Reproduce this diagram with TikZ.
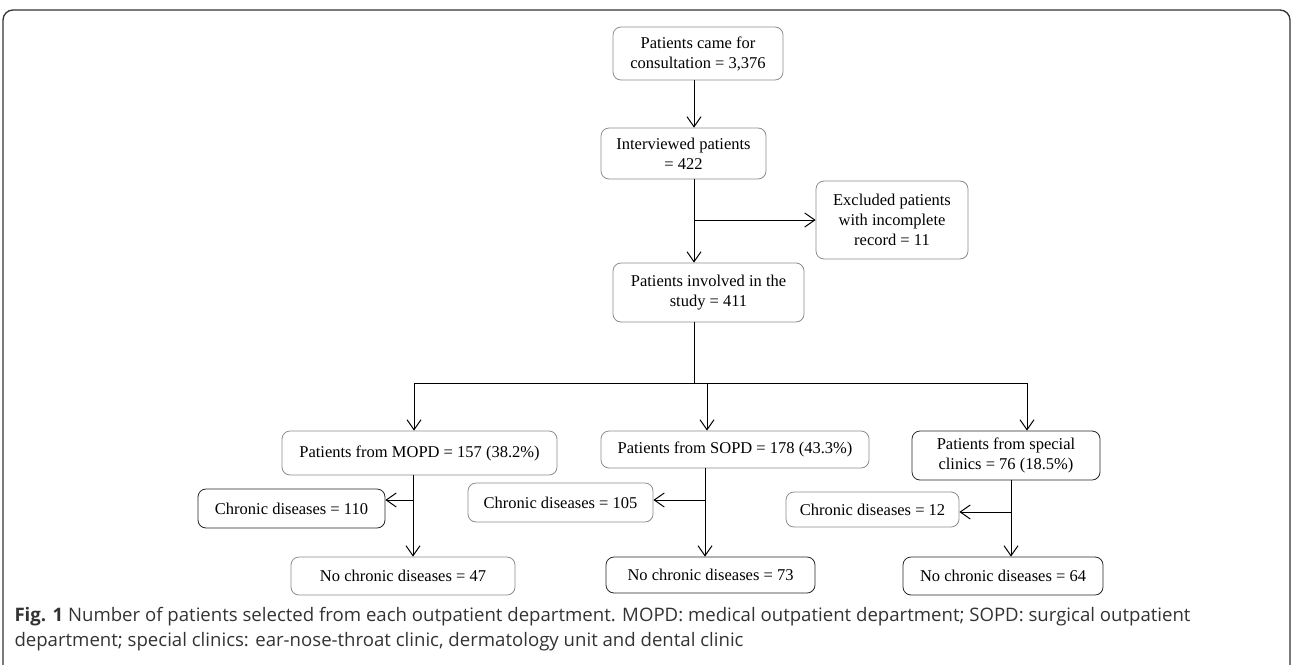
\documentclass[tikz,border=0pt]{standalone}
\usepackage{fontspec}
\setmainfont{Liberation Serif}
\newfontfamily\capfont{Open Sans}
\usetikzlibrary{arrows.meta}
\tikzset{box/.style={draw=black!45, line width=0.8pt, rounded corners=8pt, align=center, inner sep=0pt, font=\fontsize{16.5}{20}\selectfont},
         darkbox/.style={box, draw=black!85},
         arr/.style={-{Straight Barb[length=10pt,width=14pt]}},
         every path/.style={line width=1pt}}

\begin{document}
\begin{tikzpicture}[x=1pt,y=-1pt]
  \useasboundingbox (0,0) rectangle (1292,664);
  \draw[black!80, line width=1.3pt, rounded corners=10pt] (3,668) -- (3,10) -- (1290,10) -- (1290,668);

  \node[box, minimum width=170, minimum height=53] (top)  at ( 698, 53.5) {Patients came for\\consultation = 3,376};
  \node[box, minimum width=165, minimum height=51] (intv) at ( 683.5,153.5) {Interviewed patients\\= 422};
  \node[box, minimum width=152, minimum height=78] (excl) at ( 892, 220) {Excluded patients\\with incomplete\\record = 11};
  \node[box, minimum width=191, minimum height=59] (inv)  at ( 708.5,292.5) {Patients involved in the\\study = 411};
  \node[box, minimum width=275, minimum height=44] (mopd) at ( 419.5,453) {Patients from MOPD = 157 (38.2\%)};
  \node[box, minimum width=268, minimum height=37] (sopd) at ( 735, 449.5) {Patients from SOPD = 178 (43.3\%)};
  \node[darkbox, minimum width=188, minimum height=49] (spec) at (1006, 455.5) {Patients from special\\clinics = 76 (18.5\%)};
  \node[darkbox, minimum width=187, minimum height=39] (cm)  at ( 291.5,508.5) {Chronic diseases = 110};
  \node[box, minimum width=185, minimum height=39] (cs)      at ( 560.5,502.5) {Chronic diseases = 105};
  \node[box, minimum width=173, minimum height=35] (cx)      at ( 872.5,509.5) {Chronic diseases = 12};
  \node[box, minimum width=224, minimum height=38] (nm)      at ( 403, 576) {No chronic diseases = 47};
  \node[darkbox, minimum width=209, minimum height=36] (ns)  at ( 710.5,575) {No chronic diseases = 73};
  \node[darkbox, minimum width=200, minimum height=38] (nx)  at (1003, 576) {No chronic diseases = 64};

  \coordinate (trunk) at ( 694,383);
  \coordinate (lft)   at ( 414,383);
  \coordinate (mid)   at ( 707,383);
  \coordinate (rgt)   at (1027,383);
  \coordinate (bm)    at ( 413,500);
  \coordinate (bs)    at ( 705,500);
  \coordinate (bx)    at (1011,512);

  \draw[arr] (top.south -| trunk) -- (intv.north -| trunk);
  \draw[arr] (intv.south -| trunk) -- (inv.north -| trunk);
  \draw[arr] (trunk |- excl.west) -- (excl.west);
  \draw (inv.south -| trunk) -- (trunk);
  \draw (lft) -- (rgt);
  \draw[arr] (lft) -- (mopd.north -| lft);
  \draw[arr] (mid) -- (sopd.north -| mid);
  \draw[arr] (rgt) -- (spec.north -| rgt);

  \draw[arr] (mopd.south -| bm) -- (nm.north -| bm);
  \draw[arr] (bm) -- (cm.east |- bm);
  \draw[arr] (sopd.south -| bs) -- (ns.north -| bs);
  \draw[arr] (bs) -- (cs.east |- bs);
  \draw[arr] (spec.south -| bx) -- (nx.north -| bx);
  \draw[arr] (bx) -- (cx.east |- bx);

  \node[anchor=north west, align=left, inner sep=0pt, text=black!80, font=\capfont\fontsize{18.6}{25}\selectfont] (cap) at (14,607)
    {\textbf{Fig. 1} Number of patients selected from each outpatient department. MOPD: medical outpatient department; SOPD: surgical outpatient\\
     department; special clinics: ear-nose-throat clinic, dermatology unit and dental clinic};
\end{tikzpicture}
\end{document}
